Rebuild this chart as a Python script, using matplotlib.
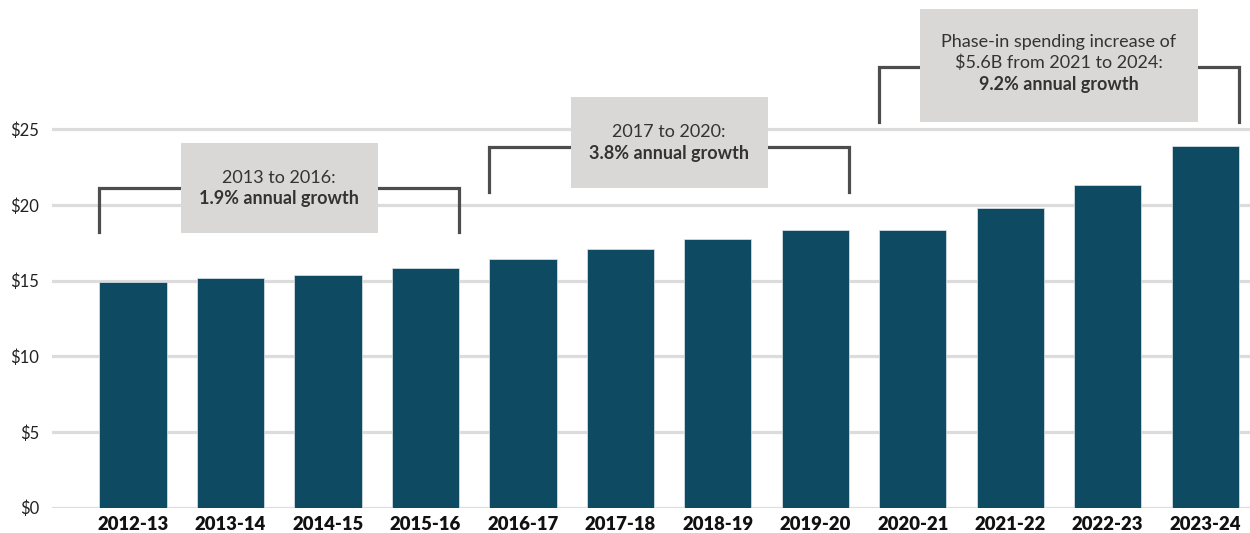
import numpy as np
import matplotlib.pyplot as plt
from matplotlib.patches import Rectangle

plt.rcParams['font.family'] = ['Lato', 'DejaVu Sans']

# school years and spending (billions of dollars)
years = ['2012-13', '2013-14', '2014-15', '2015-16', '2016-17', '2017-18',
         '2018-19', '2019-20', '2020-21', '2021-22', '2022-23', '2023-24']
spending = [14.9, 15.15, 15.4, 15.8, 16.4, 17.1, 17.75, 18.35, 18.35, 19.8, 21.3, 23.9]

yticks = [0, 5, 10, 15, 20, 25]
ytick_labels = ['$0', '$5', '$10', '$15', '$20', '$25']

# growth callouts: first bar, last bar, text lines (last line bold)
callout_ranges = [(0, 3), (4, 7), (8, 11)]
callout_text = [
    ['2013 to 2016:', '1.9% annual growth'],
    ['2017 to 2020:', '3.8% annual growth'],
    ['Phase-in spending increase of', '$5.6B from 2021 to 2024:', '9.2% annual growth'],
]

bar_color = '#0f4a63'
grid_color = '#dcdcdc'
bracket_color = '#4d4d4d'
box_color = '#d9d8d6'
bar_w = 0.69

fig = plt.figure(figsize=(12.5, 5.33), dpi=100)
ax = fig.add_axes([0.0416, 0.0475, 0.9584, 0.9525])
x = np.arange(len(years))

for t in yticks:
    ax.axhline(t, color=grid_color, lw=2.3, zorder=1)
ax.bar(x, spending, width=bar_w, color=bar_color, edgecolor='#dfe8ec', linewidth=0.5, zorder=2)

ax.set_xlim(-0.831, 11.46)
ax.set_ylim(0, 33.53)
ax.set_yticks(yticks)
ax.set_yticklabels(ytick_labels, fontsize=12, color='#222222')
ax.set_xticks(x)
ax.set_xticklabels(years, fontsize=13.3, fontweight='heavy', color='#111111')
ax.tick_params(axis='y', length=0, pad=9)
ax.tick_params(axis='x', length=0, pad=6)
for s in ax.spines.values():
    s.set_visible(False)

# bracket levels / box geometry (data units)
levels = [21.1, 23.8, 29.13]
drops = [18.2, 20.87, 25.5]
boxes = [(1.5, 2.02, 18.12, 24.11), (5.5, 2.02, 21.14, 27.15), (9.5, 2.85, 25.5, 32.94)]
text_mid = [21.1, 24.1, 29.38]
line_step = 1.4

for (i0, i1), lines, lev, drop, (cx, bw, b0, b1), tm in zip(
        callout_ranges, callout_text, levels, drops, boxes, text_mid):
    xl = i0 - bar_w / 2
    xr = i1 + bar_w / 2
    ax.plot([xl, xl, xr, xr], [drop, lev, lev, drop], color=bracket_color,
            lw=2.3, solid_joinstyle='miter', zorder=3, clip_on=False)
    ax.add_patch(Rectangle((cx - bw / 2, b0), bw, b1 - b0, facecolor=box_color,
                           edgecolor='none', zorder=4, clip_on=False))
    n = len(lines)
    for k, line in enumerate(lines):
        yy = tm + (n - 1) / 2 * line_step - k * line_step
        ax.text(cx, yy, line, ha='center', va='center', fontsize=13, color='#333333',
                fontweight='bold' if k == n - 1 else 'normal', zorder=5)

fig.savefig('out.png', dpi=100)
